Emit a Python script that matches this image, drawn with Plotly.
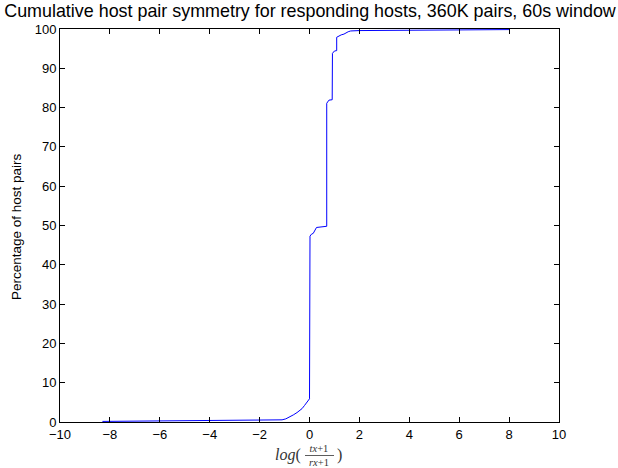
import plotly.graph_objects as go

# CDF of log((tx+1)/(rx+1))
log_ratio = [-8.3, -6.0, -4.0, -2.0, -1.1, -0.95, -0.8, -0.65, -0.5, -0.4, -0.3,
             -0.2, -0.1, 0.0, 0.02, 0.08, 0.15, 0.22, 0.28, 0.69, 0.69, 0.78,
             0.91, 0.92, 1.0, 1.09, 1.09, 1.27, 1.38, 1.55, 1.65, 2.0, 4.0, 6.0, 8.0]
pct_pairs = [0.15, 0.25, 0.35, 0.5, 0.55, 0.8, 1.2, 1.8, 2.4, 2.9, 3.4,
             4.2, 5.0, 5.9, 47.3, 47.8, 48.0, 49.0, 49.5, 49.8, 81.1, 81.9,
             82.0, 93.8, 94.4, 94.5, 97.9, 98.5, 98.7, 99.3, 99.5, 99.6, 99.7, 99.8, 99.85]

x_ticks = [-10, -8, -6, -4, -2, 0, 2, 4, 6, 8, 10]
y_ticks = [0, 10, 20, 30, 40, 50, 60, 70, 80, 90, 100]
x_tick_text = ["\u221210", "\u22128", "\u22126", "\u22124", "\u22122", "0", "2", "4", "6", "8", "10"]

title_text = "Cumulative host pair symmetry for responding hosts, 360K pairs, 60s window"
y_label = "Percentage of host pairs"

W, H = 618, 468
L, R, T, B = 60, 59, 29, 46
PW, PH = W - L - R, H - T - B


def px(x):
    return (x - L) / PW


def py(y):
    return (H - B - y) / PH


fig = go.Figure()
fig.add_trace(go.Scatter(x=log_ratio, y=pct_pairs, mode="lines",
                         line=dict(color="#0000ff", width=1), showlegend=False,
                         hoverinfo="skip"))

axis_common = dict(showgrid=False, zeroline=False, showline=True, linecolor="black",
                   linewidth=1, mirror="allticks", ticks="inside", ticklen=5,
                   tickcolor="black", tickfont=dict(family="Liberation Sans, Arial", size=13, color="black"))

fig.update_xaxes(range=[-10, 10], tickvals=x_ticks, ticktext=x_tick_text, **axis_common)
fig.update_yaxes(range=[0, 100], tickvals=y_ticks, **axis_common)

fig.update_layout(
    width=W, height=H,
    margin=dict(l=L, r=R, t=T, b=B),
    paper_bgcolor="white", plot_bgcolor="white",
    title=dict(text=title_text, x=310 / W, xanchor="center", y=1 - 11 / H, yanchor="middle",
               font=dict(family="Liberation Sans, Arial", size=17.9, color="black")),
)

# y axis label
fig.add_annotation(text=y_label, xref="paper", yref="paper", x=px(17), y=py(227),
                   xanchor="center", yanchor="middle", textangle=-90, showarrow=False,
                   font=dict(family="Liberation Sans, Arial", size=13.5, color="black"))

# x axis label: log((tx+1)/(rx+1)) built from text pieces
serif = "Liberation Serif, DejaVu Serif, serif"
lab_col = "#333333"
fig.add_annotation(text="<i>log</i>(", xref="paper", yref="paper", x=px(303), y=py(455),
                   xanchor="right", yanchor="middle", showarrow=False,
                   font=dict(family=serif, size=16, color=lab_col))
fig.add_annotation(text="<i>tx</i>+1<br><i>rx</i>+1", xref="paper", yref="paper",
                   x=px(319), y=py(455), xanchor="center", yanchor="middle",
                   showarrow=False, borderpad=0,
                   font=dict(family=serif, size=10.5, color=lab_col))
fig.add_shape(type="line", xref="paper", yref="paper", x0=px(305), x1=px(334),
              y0=py(455.5), y1=py(455.5), line=dict(color=lab_col, width=0.8))
fig.add_annotation(text=")", xref="paper", yref="paper", x=px(335), y=py(455),
                   xanchor="left", yanchor="middle", showarrow=False,
                   font=dict(family=serif, size=16, color=lab_col))

fig.write_html("out.html", post_script="document.body.style.margin='0';",
               config={"displayModeBar": False})
